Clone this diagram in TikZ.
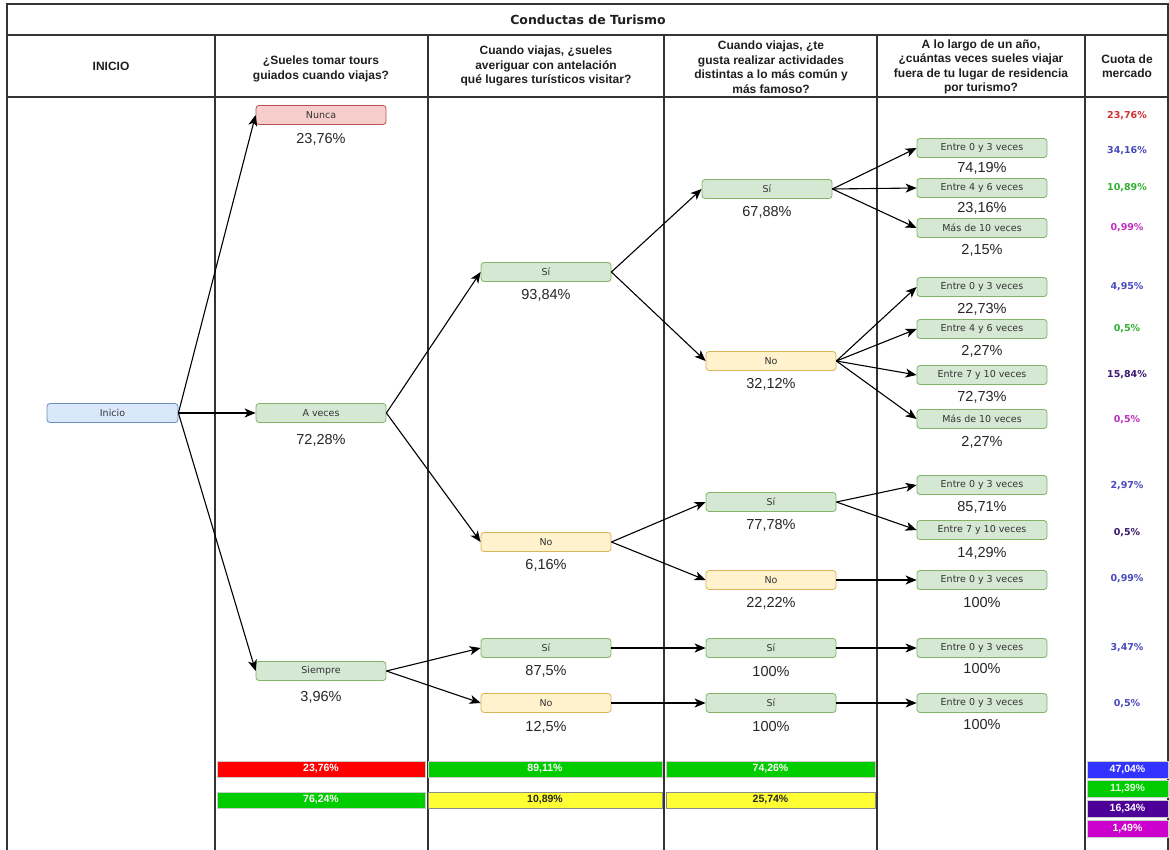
\documentclass[tikz,border=0pt]{standalone}
\usepackage{fontspec}
\setmainfont{Liberation Sans}
\newfontfamily\dejavu{DejaVu Sans}
\usetikzlibrary{arrows.meta}
\definecolor{gfill}{HTML}{D5E8D4}
\definecolor{gline}{HTML}{82B366}
\definecolor{yfill}{HTML}{FFF2CC}
\definecolor{yline}{HTML}{D6B656}
\definecolor{rfill}{HTML}{F8CECC}
\definecolor{rline}{HTML}{B85450}
\definecolor{bfill}{HTML}{DAE8FC}
\definecolor{bline}{HTML}{6C8EBF}
\definecolor{gridc}{HTML}{333333}
\definecolor{cred}{HTML}{D03030}
\definecolor{cblue}{HTML}{4848C0}
\definecolor{cgreen}{HTML}{30B030}
\definecolor{cmag}{HTML}{C030C0}
\definecolor{cind}{HTML}{3C1870}
\definecolor{barred}{HTML}{FF0000}
\definecolor{bargreen}{HTML}{00CC00}
\definecolor{baryellow}{HTML}{FFFF33}
\definecolor{barblue}{HTML}{3333FF}
\definecolor{barind}{HTML}{4C0099}
\definecolor{barmag}{HTML}{CC00CC}
\begin{document}
\begin{tikzpicture}[x=1pt,y=-1pt,
  box/.style={rounded corners=3pt, minimum width=130pt, minimum height=19pt, inner sep=0pt,
    line width=0.8pt, font=\dejavu\fontsize{9.5}{11}\selectfont, text=black!80},
  gbox/.style={box, fill=gfill, draw=gline},
  ybox/.style={box, fill=yfill, draw=yline},
  rbox/.style={box, fill=rfill, draw=rline},
  bluebox/.style={box, fill=bfill, draw=bline},
  pct/.style={font=\fontsize{14.5}{16}\selectfont, text=black!85, inner sep=0pt},
  cuota/.style={font=\dejavu\bfseries\fontsize{9.5}{11}\selectfont, inner sep=0pt},
  hdr/.style={font=\bfseries\fontsize{12}{14.5}\selectfont, align=center, inner sep=0pt, text=black!88},
  arr/.style={-{Stealth[length=11pt,width=9pt,inset=3pt]}, line width=1.1pt},
  gridline/.style={draw=gridc, line width=1.4pt},
  bar/.style={minimum height=16pt, inner sep=0pt, draw=black!20, line width=0.4pt,
    font=\bfseries\fontsize{10.5}{11}\selectfont, text=white},
]
\useasboundingbox (0,0) rectangle (1169,850);
\fill[white] (0,0) rectangle (1169,850);

% grid
\draw[gridline] (7,850) -- (7,4) -- (1168,4) -- (1168,850);
\draw[gridline] (7,35) -- (1168,35);
\draw[gridline] (7,97) -- (1168,97);
\foreach \xx in {215,428,664,877,1085} \draw[gridline] (\xx,35) -- (\xx,850);

% headers
\node[hdr, font=\dejavu\bfseries\fontsize{12.5}{14}\selectfont] (title) at (588,20) {Conductas de Turismo};
\node[hdr] (h1) at (111,66) {INICIO};
\node[hdr] (h2) at (321,69) {¿Sueles tomar tours\\guiados cuando viajas?};
\node[hdr] (h3) at (546,66) {Cuando viajas, ¿sueles\\averiguar con antelación\\qué lugares turísticos visitar?};
\node[hdr] (h4) at (771,67) {Cuando viajas, ¿te\\gusta realizar actividades\\distintas a lo más común y\\más famoso?};
\node[hdr] (h5) at (981,67) {A lo largo de un año,\\¿cuántas veces sueles viajar\\fuera de tu lugar de residencia\\por turismo?};
\node[hdr] (h6) at (1127,66) {Cuota de\\mercado};

% nodes
\node[bluebox, minimum width=131pt] (inicio) at (112.5,413) {Inicio};
\node[rbox] (nunca) at (321,115) {Nunca};
\node[gbox] (aveces) at (321,413) {A veces};
\node[gbox] (siempre) at (321,671) {Siempre};
\node[gbox] (c3a) at (546,272) {Sí};
\node[ybox] (c3b) at (546,542) {No};
\node[gbox] (c3c) at (546,648) {Sí};
\node[ybox] (c3d) at (546,703) {No};
\node[gbox] (c4a) at (767,189) {Sí};
\node[ybox] (c4b) at (771,361) {No};
\node[gbox] (c4c) at (771,502) {Sí};
\node[ybox] (c4d) at (771,580) {No};
\node[gbox] (c4e) at (771,648) {Sí};
\node[gbox] (c4f) at (771,703) {Sí};
\node[gbox] (e1) at (982,148) {Entre 0 y 3 veces};
\node[gbox] (e2) at (982,188) {Entre 4 y 6 veces};
\node[gbox] (e3) at (982,228) {Más de 10 veces};
\node[gbox] (e4) at (982,287) {Entre 0 y 3 veces};
\node[gbox] (e5) at (982,329) {Entre 4 y 6 veces};
\node[gbox] (e6) at (982,375) {Entre 7 y 10 veces};
\node[gbox] (e7) at (982,419) {Más de 10 veces};
\node[gbox] (e8) at (982,485) {Entre 0 y 3 veces};
\node[gbox] (e9) at (982,530) {Entre 7 y 10 veces};
\node[gbox] (e10) at (982,580) {Entre 0 y 3 veces};
\node[gbox] (e11) at (982,648) {Entre 0 y 3 veces};
\node[gbox] (e12) at (982,703) {Entre 0 y 3 veces};

% percentage labels
\node[pct] (lnunca) at (321,139) {23,76\%};
\node[pct] (laveces) at (321,440) {72,28\%};
\node[pct] (lsiempre) at (321,697) {3,96\%};
\node[pct] (lc3a) at (546,295) {93,84\%};
\node[pct] (lc3b) at (546,565) {6,16\%};
\node[pct] (lc3c) at (546,671) {87,5\%};
\node[pct] (lc3d) at (546,727) {12,5\%};
\node[pct] (lc4a) at (767,212) {67,88\%};
\node[pct] (lc4b) at (771,384) {32,12\%};
\node[pct] (lc4c) at (771,525) {77,78\%};
\node[pct] (lc4d) at (771,603) {22,22\%};
\node[pct] (lc4e) at (771,672) {100\%};
\node[pct] (lc4f) at (771,727) {100\%};
\node[pct] (le1) at (982,168) {74,19\%};
\node[pct] (le2) at (982,208) {23,16\%};
\node[pct] (le3) at (982,250) {2,15\%};
\node[pct] (le4) at (982,309) {22,73\%};
\node[pct] (le5) at (982,351) {2,27\%};
\node[pct] (le6) at (982,397) {72,73\%};
\node[pct] (le7) at (982,442) {2,27\%};
\node[pct] (le8) at (982,507) {85,71\%};
\node[pct] (le9) at (982,553) {14,29\%};
\node[pct] (le10) at (982,603) {100\%};
\node[pct] (le11) at (982,669) {100\%};
\node[pct] (le12) at (982,725) {100\%};

% cuota de mercado
\node[cuota, text=cred] (q0) at (1127,116) {23,76\%};
\node[cuota, text=cblue] (q1) at (1127,151) {34,16\%};
\node[cuota, text=cgreen] (q2) at (1127,188) {10,89\%};
\node[cuota, text=cmag] (q3) at (1127,228) {0,99\%};
\node[cuota, text=cblue] (q4) at (1127,287) {4,95\%};
\node[cuota, text=cgreen] (q5) at (1127,329) {0,5\%};
\node[cuota, text=cind] (q6) at (1127,375) {15,84\%};
\node[cuota, text=cmag] (q7) at (1127,420) {0,5\%};
\node[cuota, text=cblue] (q8) at (1127,486) {2,97\%};
\node[cuota, text=cind] (q9) at (1127,533) {0,5\%};
\node[cuota, text=cblue] (q10) at (1127,579) {0,99\%};
\node[cuota, text=cblue] (q11) at (1127,648) {3,47\%};
\node[cuota, text=cblue] (q12) at (1127,704) {0,5\%};

% arrows
\draw[arr] (inicio.east) -- (nunca.west);
\draw[arr] (inicio.east) -- (aveces.west);
\draw[arr] (inicio.east) -- (siempre.west);
\draw[arr] (aveces.east) -- (c3a.west);
\draw[arr] (aveces.east) -- (c3b.west);
\draw[arr] (siempre.east) -- (c3c.west);
\draw[arr] (siempre.east) -- (c3d.west);
\draw[arr] (c3a.east) -- (c4a.west);
\draw[arr] (c3a.east) -- (c4b.west);
\draw[arr] (c3b.east) -- (c4c.west);
\draw[arr] (c3b.east) -- (c4d.west);
\draw[arr] (c3c.east) -- (c4e.west);
\draw[arr] (c3d.east) -- (c4f.west);
\draw[arr] (c4a.east) -- (e1.west);
\draw[arr] (c4a.east) -- (e2.west);
\draw[arr] (c4a.east) -- (e3.west);
\draw[arr] (c4b.east) -- (e4.west);
\draw[arr] (c4b.east) -- (e5.west);
\draw[arr] (c4b.east) -- (e6.west);
\draw[arr] (c4b.east) -- (e7.west);
\draw[arr] (c4c.east) -- (e8.west);
\draw[arr] (c4c.east) -- (e9.west);
\draw[arr] (c4d.east) -- (e10.west);
\draw[arr] (c4e.east) -- (e11.west);
\draw[arr] (c4f.east) -- (e12.west);

% bottom bars
\node[bar, fill=barred, minimum width=208pt] (b1) at (321,769) {23,76\%};
\node[bar, fill=bargreen, minimum width=234pt] (b2) at (545,769) {89,11\%};
\node[bar, fill=bargreen, minimum width=209pt] (b3) at (770.5,769) {74,26\%};
\node[bar, fill=bargreen, minimum width=208pt] (b4) at (321,800) {76,24\%};
\node[bar, fill=baryellow, draw=black!45, text=black!85, minimum width=234pt] (b5) at (545,800) {10,89\%};
\node[bar, fill=baryellow, draw=black!45, text=black!85, minimum width=209pt] (b6) at (770.5,800) {25,74\%};
\node[bar, fill=barblue, minimum width=81pt, minimum height=17pt] (r1) at (1127.5,769.5) {47,04\%};
\node[bar, fill=bargreen, minimum width=81pt, minimum height=17pt, text=green!15] (r2) at (1127.5,789) {11,39\%};
\node[bar, fill=barind, minimum width=81pt, minimum height=17pt] (r3) at (1127.5,808.5) {16,34\%};
\node[bar, fill=barmag, minimum width=81pt, minimum height=17pt] (r4) at (1127.5,828.5) {1,49\%};
\end{tikzpicture}
\end{document}
